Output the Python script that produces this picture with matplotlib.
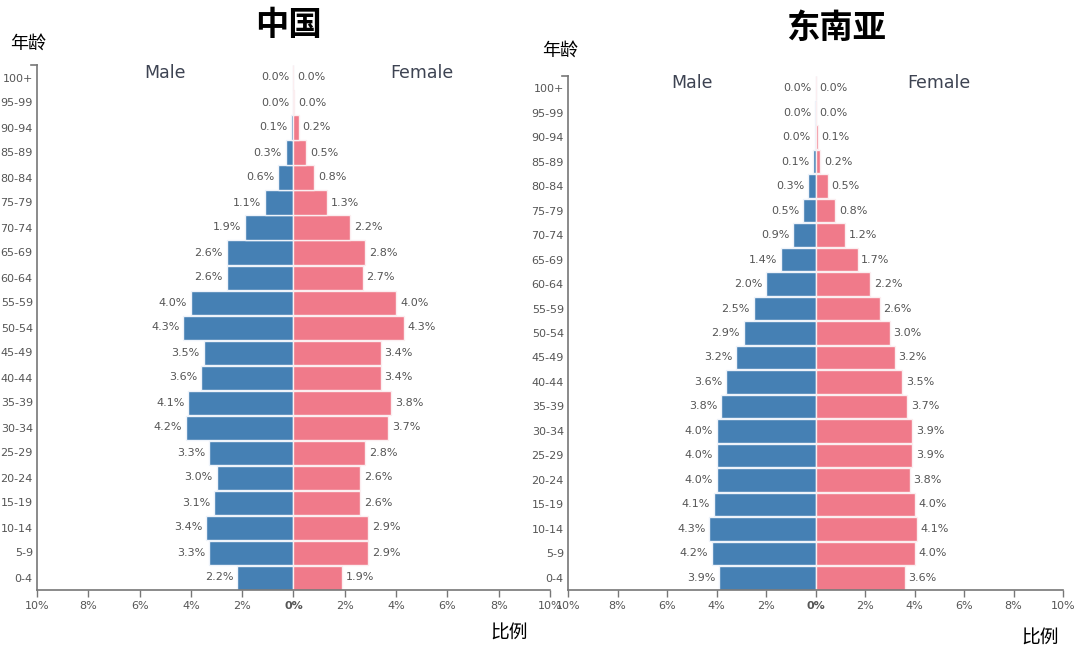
import matplotlib
matplotlib.use("Agg")
import matplotlib.pyplot as plt

# Grupos de edad (de abajo hacia arriba)
grupos = ["0-4", "5-9", "10-14", "15-19", "20-24", "25-29", "30-34", "35-39",
          "40-44", "45-49", "50-54", "55-59", "60-64", "65-69", "70-74",
          "75-79", "80-84", "85-89", "90-94", "95-99", "100+"]

# China (%)
china_male = [2.2, 3.3, 3.4, 3.1, 3.0, 3.3, 4.2, 4.1, 3.6, 3.5, 4.3,
              4.0, 2.6, 2.6, 1.9, 1.1, 0.6, 0.3, 0.1, 0.01, 0.0]
china_female = [1.9, 2.9, 2.9, 2.6, 2.6, 2.8, 3.7, 3.8, 3.4, 3.4, 4.3,
                4.0, 2.7, 2.8, 2.2, 1.3, 0.8, 0.5, 0.2, 0.03, 0.0]

# Sudeste asiático (%)
sea_male = [3.9, 4.2, 4.3, 4.1, 4.0, 4.0, 4.0, 3.8, 3.6, 3.2, 2.9,
            2.5, 2.0, 1.4, 0.9, 0.5, 0.3, 0.1, 0.04, 0.01, 0.0]
sea_female = [3.6, 4.0, 4.1, 4.0, 3.8, 3.9, 3.9, 3.7, 3.5, 3.2, 3.0,
              2.6, 2.2, 1.7, 1.2, 0.8, 0.5, 0.2, 0.1, 0.02, 0.0]

xticks = [-10, -8, -6, -4, -2, 0, 2, 4, 6, 8, 10]

AZUL = "#4580b4"
ROSA = "#f07a8a"
GRIS = "#777777"
CJK = ["Noto Sans CJK SC", "DejaVu Sans"]


def piramide(ax, male, female):
    y = range(len(grupos))
    ax.barh(y, [-m for m in male], height=0.96, color=AZUL,
            edgecolor="#eef3fa", linewidth=1)
    ax.barh(y, female, height=0.96, color=ROSA,
            edgecolor="#fbeef0", linewidth=1)

    for i, (m, f) in enumerate(zip(male, female)):
        ax.text(-m - 0.15, i, f"{m:.1f}%", ha="right", va="center",
                fontsize=8, color="#555555")
        ax.text(f + 0.15, i, f"{f:.1f}%", ha="left", va="center",
                fontsize=8, color="#555555")

    ax.text(-5, 20.2, "Male", ha="center", va="center", fontsize=12.5, color="#3d4352")
    ax.text(5, 20.2, "Female", ha="center", va="center", fontsize=12.5, color="#3d4352")

    ax.set_xlim(-10, 10)
    ax.set_ylim(-0.5, 20.5)
    ax.set_xticks(xticks)
    ax.set_xticklabels([f"{abs(t)}%" for t in xticks], fontsize=8, color="#555555")
    ax.get_xticklabels()[5].set_fontweight("bold")
    ax.set_yticks(list(y))
    ax.set_yticklabels(grupos, fontsize=8, color="#555555")
    ax.tick_params(axis="y", length=0, pad=3)
    ax.tick_params(axis="x", length=5, color=GRIS, pad=3, width=1)

    for lado in ["top", "right"]:
        ax.spines[lado].set_visible(False)
    for lado in ["left", "bottom"]:
        ax.spines[lado].set_color(GRIS)
        ax.spines[lado].set_linewidth(1.2)
    # tick exterior arriba del eje y
    ax.plot([-0.012, 0], [1, 1], transform=ax.transAxes, color=GRIS,
            linewidth=1.2, clip_on=False)


fig = plt.figure(figsize=(10.8, 6.53), dpi=100)

ax1 = fig.add_axes([37 / 1080, 1 - 590 / 653, 513 / 1080, 525 / 653])
piramide(ax1, china_male, china_female)

ax2 = fig.add_axes([568 / 1080, 1 - 590 / 653, 495 / 1080, 514 / 653])
piramide(ax2, sea_male, sea_female)

fig.text(288 / 1080, 1 - 25 / 653, "中国", ha="center", va="center",
         fontsize=24, fontweight="bold", family=CJK)
fig.text(836 / 1080, 1 - 28 / 653, "东南亚", ha="center", va="center",
         fontsize=24, fontweight="bold", family=CJK)
fig.text(28 / 1080, 1 - 44 / 653, "年龄", ha="center", va="center",
         fontsize=13, family=CJK)
fig.text(560 / 1080, 1 - 51 / 653, "年龄", ha="center", va="center",
         fontsize=13, family=CJK)
fig.text(509 / 1080, 1 - 633 / 653, "比例", ha="center", va="center",
         fontsize=13.5, family=CJK)
fig.text(1040 / 1080, 1 - 638 / 653, "比例", ha="center", va="center",
         fontsize=13.5, family=CJK)

fig.savefig("out.png", dpi=100)
